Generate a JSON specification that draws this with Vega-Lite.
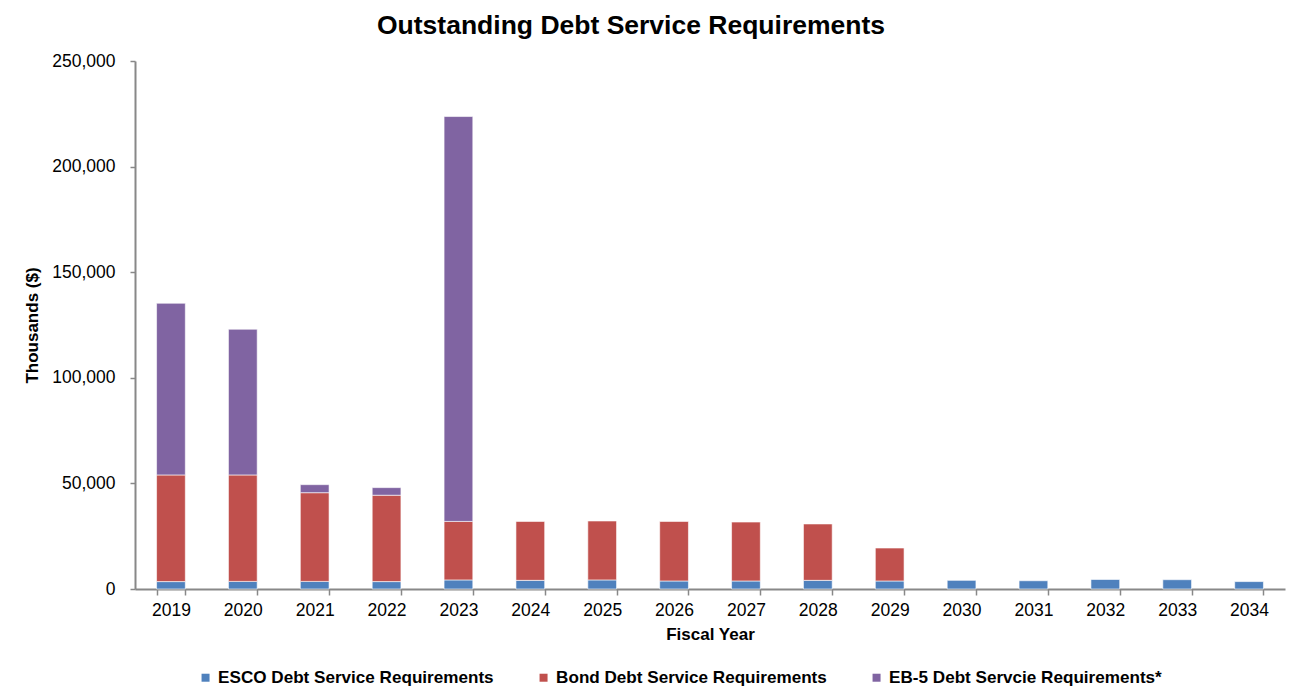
{
  "$schema": "https://vega.github.io/schema/vega-lite/v6.json",
  "autosize": "none",
  "width": 1150,
  "height": 528,
  "padding": {"left": 135, "top": 61, "right": 19, "bottom": 109},
  "background": "white",
  "config": {
    "view": {"stroke": null},
    "font": "Liberation Sans"
  },
  "title": {
    "text": "Outstanding Debt Service Requirements",
    "font": "Liberation Sans",
    "fontSize": 26.5,
    "fontWeight": "bold",
    "color": "black",
    "anchor": "middle",
    "dx": -79,
    "offset": 13
  },
  "data": {
    "values": [
      {"year": "2019", "series": "ESCO Debt Service Requirements", "value": 3500},
      {"year": "2019", "series": "Bond Debt Service Requirements", "value": 50500},
      {"year": "2019", "series": "EB-5 Debt Servcie Requirements*", "value": 81300},
      {"year": "2020", "series": "ESCO Debt Service Requirements", "value": 3600},
      {"year": "2020", "series": "Bond Debt Service Requirements", "value": 50400},
      {"year": "2020", "series": "EB-5 Debt Servcie Requirements*", "value": 69000},
      {"year": "2021", "series": "ESCO Debt Service Requirements", "value": 3600},
      {"year": "2021", "series": "Bond Debt Service Requirements", "value": 42000},
      {"year": "2021", "series": "EB-5 Debt Servcie Requirements*", "value": 3800},
      {"year": "2022", "series": "ESCO Debt Service Requirements", "value": 3500},
      {"year": "2022", "series": "Bond Debt Service Requirements", "value": 40900},
      {"year": "2022", "series": "EB-5 Debt Servcie Requirements*", "value": 3600},
      {"year": "2023", "series": "ESCO Debt Service Requirements", "value": 4300},
      {"year": "2023", "series": "Bond Debt Service Requirements", "value": 27700},
      {"year": "2023", "series": "EB-5 Debt Servcie Requirements*", "value": 191700},
      {"year": "2024", "series": "ESCO Debt Service Requirements", "value": 4100},
      {"year": "2024", "series": "Bond Debt Service Requirements", "value": 27900},
      {"year": "2025", "series": "ESCO Debt Service Requirements", "value": 4300},
      {"year": "2025", "series": "Bond Debt Service Requirements", "value": 27900},
      {"year": "2026", "series": "ESCO Debt Service Requirements", "value": 3800},
      {"year": "2026", "series": "Bond Debt Service Requirements", "value": 28200},
      {"year": "2027", "series": "ESCO Debt Service Requirements", "value": 3800},
      {"year": "2027", "series": "Bond Debt Service Requirements", "value": 27900},
      {"year": "2028", "series": "ESCO Debt Service Requirements", "value": 4100},
      {"year": "2028", "series": "Bond Debt Service Requirements", "value": 26700},
      {"year": "2029", "series": "ESCO Debt Service Requirements", "value": 3800},
      {"year": "2029", "series": "Bond Debt Service Requirements", "value": 15600},
      {"year": "2030", "series": "ESCO Debt Service Requirements", "value": 4100},
      {"year": "2031", "series": "ESCO Debt Service Requirements", "value": 3900},
      {"year": "2032", "series": "ESCO Debt Service Requirements", "value": 4500},
      {"year": "2033", "series": "ESCO Debt Service Requirements", "value": 4400},
      {"year": "2034", "series": "ESCO Debt Service Requirements", "value": 3500}
    ]
  },
  "transform": [
    {"calculate": "datum.series === 'ESCO Debt Service Requirements' ? 0 : (datum.series === 'Bond Debt Service Requirements' ? 1 : 2)", "as": "ord"}
  ],
  "mark": {"type": "bar", "stroke": "white", "strokeWidth": 1, "strokeOpacity": 0.6},
  "encoding": {
    "x": {
      "field": "year",
      "type": "ordinal",
      "title": "Fiscal Year",
      "scale": {"paddingInner": 0.6, "paddingOuter": 0.3},
      "axis": {
        "labelAngle": 0,
        "labelFont": "Liberation Sans",
        "labelFontSize": 17.5,
        "labelColor": "black",
        "labelPadding": 6,
        "tickBand": "extent",
        "tickSize": 6,
        "tickColor": "#888888",
        "domainColor": "#888888",
        "domainWidth": 2,
        "tickWidth": 1.5,
        "titleFont": "Liberation Sans",
        "titleFontSize": 17,
        "titleFontWeight": "bold",
        "titleColor": "black",
        "titlePadding": 8
      }
    },
    "y": {
      "field": "value",
      "type": "quantitative",
      "stack": "zero",
      "title": "Thousands ($)",
      "scale": {"domain": [0, 250000]},
      "axis": {
        "values": [0, 50000, 100000, 150000, 200000, 250000],
        "format": ",d",
        "grid": false,
        "labelFont": "Liberation Sans",
        "labelFontSize": 17.5,
        "labelColor": "black",
        "labelPadding": 15,
        "tickSize": 5,
        "tickColor": "#888888",
        "domainColor": "#888888",
        "domainWidth": 2,
        "tickWidth": 1.5,
        "titleFont": "Liberation Sans",
        "titleFontSize": 17,
        "titleFontWeight": "bold",
        "titleColor": "black",
        "titlePadding": 10
      }
    },
    "color": {
      "field": "series",
      "type": "nominal",
      "sort": ["ESCO Debt Service Requirements", "Bond Debt Service Requirements", "EB-5 Debt Servcie Requirements*"],
      "scale": {
        "domain": ["ESCO Debt Service Requirements", "Bond Debt Service Requirements", "EB-5 Debt Servcie Requirements*"],
        "range": ["#4F81BD", "#C0504D", "#8064A2"]
      },
      "legend": {
        "title": null,
        "orient": "none",
        "legendX": 62,
        "legendY": 608,
        "padding": 0,
        "direction": "horizontal",
        "symbolType": "square",
        "symbolSize": 64,
        "symbolStrokeWidth": 0,
        "labelFont": "Liberation Sans",
        "labelFontSize": 17.1,
        "labelFontWeight": "bold",
        "labelColor": "black",
        "labelOffset": 4,
        "columnPadding": 41,
        "labelLimit": 400
      }
    },
    "order": {"field": "ord", "type": "quantitative"}
  }
}
